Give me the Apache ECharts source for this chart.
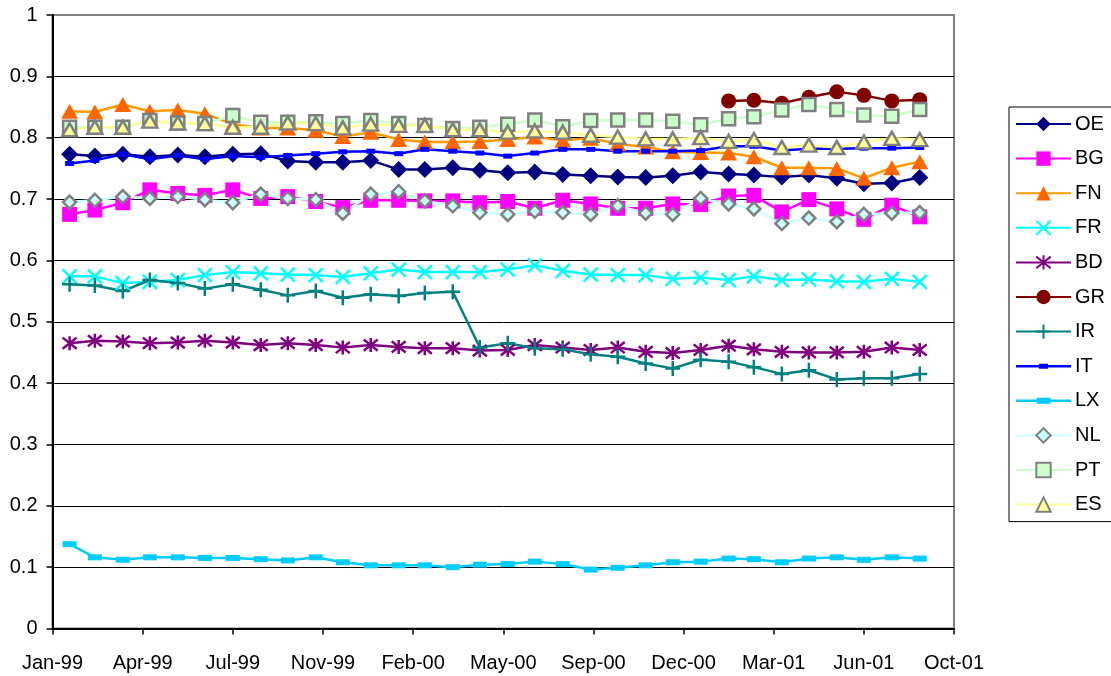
<!DOCTYPE html>
<html>
<head>
<meta charset="utf-8">
<script src="https://cdn.jsdelivr.net/npm/echarts@6/dist/echarts.min.js"></script>
<style>
  html, body { margin: 0; padding: 0; background: #fff; }
  #chart { width: 1111px; height: 676px; }
</style>
</head>
<body>
<div id="chart"></div>
<script>
// month-end observation dates
const months = [
  '1999-01-31', '1999-02-28', '1999-03-31', '1999-04-30', '1999-05-31', '1999-06-30',
  '1999-07-31', '1999-08-31', '1999-09-30', '1999-10-31', '1999-11-30', '1999-12-31',
  '2000-01-31', '2000-02-29', '2000-03-31', '2000-04-30', '2000-05-31', '2000-06-30',
  '2000-07-31', '2000-08-31', '2000-09-30', '2000-10-31', '2000-11-30', '2000-12-31',
  '2001-01-31', '2001-02-28', '2001-03-31', '2001-04-30', '2001-05-31', '2001-06-30',
  '2001-07-31', '2001-08-31'
];

const OE = [0.773, 0.770, 0.773, 0.769, 0.772, 0.769, 0.773, 0.774, 0.762, 0.760, 0.760, 0.763,
  0.748, 0.748, 0.751, 0.747, 0.743, 0.744, 0.740, 0.738, 0.736, 0.735, 0.738, 0.744,
  0.741, 0.739, 0.736, 0.739, 0.734, 0.725, 0.726, 0.735];
const BG = [0.675, 0.682, 0.694, 0.715, 0.709, 0.706, 0.715, 0.701, 0.704, 0.696, 0.686, 0.698,
  0.698, 0.697, 0.697, 0.694, 0.696, 0.685, 0.698, 0.692, 0.685, 0.685, 0.692, 0.691,
  0.705, 0.706, 0.679, 0.699, 0.684, 0.667, 0.690, 0.671];
const FN = [0.843, 0.842, 0.854, 0.843, 0.845, 0.839, 0.822, 0.816, 0.816, 0.812, 0.802, 0.809,
  0.797, 0.793, 0.793, 0.794, 0.797, 0.801, 0.796, 0.799, 0.790, 0.785, 0.777, 0.776,
  0.775, 0.769, 0.751, 0.751, 0.750, 0.734, 0.751, 0.761];
const FR = [0.574, 0.574, 0.563, 0.565, 0.568, 0.576, 0.581, 0.579, 0.577, 0.576, 0.573, 0.579,
  0.585, 0.581, 0.581, 0.581, 0.585, 0.592, 0.583, 0.577, 0.576, 0.576, 0.570, 0.572,
  0.568, 0.574, 0.568, 0.569, 0.566, 0.565, 0.570, 0.565];
const BD = [0.465, 0.469, 0.468, 0.465, 0.466, 0.469, 0.466, 0.462, 0.465, 0.462, 0.458, 0.462,
  0.459, 0.457, 0.457, 0.453, 0.454, 0.462, 0.458, 0.454, 0.458, 0.451, 0.449, 0.454,
  0.461, 0.455, 0.451, 0.450, 0.450, 0.451, 0.458, 0.454];
// GR only reported from Jan-01
const GR = [null, null, null, null, null, null, null, null, null, null, null, null,
  null, null, null, null, null, null, null, null, null, null, null, null,
  0.860, 0.861, 0.856, 0.866, 0.875, 0.869, 0.860, 0.862];
const IR = [0.561, 0.559, 0.550, 0.568, 0.563, 0.554, 0.561, 0.552, 0.543, 0.550, 0.539, 0.545,
  0.542, 0.547, 0.549, 0.458, 0.465, 0.457, 0.455, 0.447, 0.443, 0.432, 0.424, 0.438,
  0.435, 0.426, 0.415, 0.421, 0.406, 0.408, 0.408, 0.415];
const IT = [0.758, 0.763, 0.773, 0.765, 0.771, 0.765, 0.770, 0.768, 0.771, 0.774, 0.777, 0.778,
  0.774, 0.781, 0.778, 0.775, 0.770, 0.775, 0.781, 0.781, 0.778, 0.778, 0.778, 0.779,
  0.786, 0.786, 0.779, 0.782, 0.782, 0.783, 0.783, 0.784];
const LX = [0.1375, 0.116, 0.112, 0.116, 0.116, 0.115, 0.115, 0.113, 0.111, 0.116, 0.108, 0.103,
  0.103, 0.103, 0.100, 0.104, 0.105, 0.109, 0.105, 0.096, 0.099, 0.103, 0.108, 0.109,
  0.114, 0.113, 0.108, 0.114, 0.116, 0.112, 0.116, 0.114];
const NL = [0.695, 0.698, 0.704, 0.701, 0.704, 0.699, 0.694, 0.708, 0.701, 0.699, 0.677, 0.708,
  0.712, 0.697, 0.689, 0.678, 0.675, 0.680, 0.678, 0.675, 0.689, 0.677, 0.675, 0.701,
  0.692, 0.684, 0.660, 0.669, 0.663, 0.675, 0.677, 0.678];
const PT = [0.817, 0.817, 0.817, 0.828, 0.824, 0.823, 0.836, 0.825, 0.825, 0.826, 0.823, 0.828,
  0.823, 0.820, 0.815, 0.817, 0.822, 0.829, 0.818, 0.828, 0.829, 0.829, 0.827, 0.821,
  0.831, 0.834, 0.845, 0.854, 0.846, 0.837, 0.835, 0.846];
const ES = [0.813, 0.817, 0.817, 0.827, 0.824, 0.823, 0.817, 0.817, 0.824, 0.823, 0.816, 0.822,
  0.820, 0.820, 0.813, 0.813, 0.809, 0.811, 0.809, 0.804, 0.801, 0.798, 0.798, 0.800,
  0.794, 0.797, 0.784, 0.788, 0.784, 0.793, 0.799, 0.797];

const yTicks = [0, 0.1, 0.2, 0.3, 0.4, 0.5, 0.6, 0.7, 0.8, 0.9, 1];

// Excel-style date axis: starts 12 Jan 1999, major unit 100 days
const DAY = 86400000;
const axisStart = Date.UTC(1999, 0, 12);
const monNames = ['Jan', 'Feb', 'Mar', 'Apr', 'May', 'Jun', 'Jul', 'Aug', 'Sep', 'Oct', 'Nov', 'Dec'];

function toDays(s) {
  return (Date.parse(s + 'T00:00:00Z') - axisStart) / DAY;
}
function dayLabel(v) {
  const d = new Date(axisStart + v * DAY);
  return monNames[d.getUTCMonth()] + '-' + String(d.getUTCFullYear()).slice(2);
}
function pairs(vals) {
  return months.map((m, i) => [toDays(m), vals[i]]);
}

const XMARK = 'path://M0,0L10,10M10,0L0,10';
const STAR = 'path://M5,0L5,10M1,1L9,9M9,1L1,9';
const PLUS = 'path://M5,0L5,10M0,5L10,5';
// legend icons for the dash markers: line through a small bar
const IT_ICON = 'path://M0,7.75h55v2.5H0z M23,6.5h9v5h-9z';
const LX_ICON = 'path://M0,7.75h55v2.5H0z M20.5,6h14v6h-14z';

function mk(name, vals, line, fill, symbol, size, border, stroked) {
  return {
    name: name,
    type: 'line',
    data: pairs(vals),
    symbol: symbol,
    symbolSize: size,
    showAllSymbol: true,
    connectNulls: false,
    animation: false,
    lineStyle: { color: line, width: 2.5 },
    itemStyle: stroked
      ? { color: fill, borderColor: fill, borderWidth: 2.5 }
      : { color: fill, borderColor: border || fill, borderWidth: border ? 2.5 : 0 },
    emphasis: { disabled: true }
  };
}

const series = [
  mk('OE', OE, '#000080', '#000080', 'diamond', 17),
  mk('BG', BG, '#FF00FF', '#FF00FF', 'rect', 15),
  mk('FN', FN, '#FF9900', '#FF6600', 'triangle', [17, 15]),
  mk('FR', FR, '#00FFFF', '#00FFFF', XMARK, 14, null, true),
  mk('BD', BD, '#800080', '#800080', STAR, 14, null, true),
  mk('GR', GR, '#800000', '#800000', 'circle', 15),
  mk('IR', IR, '#008080', '#008080', PLUS, 15, null, true),
  mk('IT', IT, '#0000FF', '#0000FF', 'rect', [9, 5]),
  mk('LX', LX, '#00CCFF', '#00CCFF', 'rect', [14, 6]),
  mk('NL', NL, '#CCFFFF', '#CCFFFF', 'diamond', 13, '#808080'),
  mk('PT', PT, '#CCFFCC', '#CCFFCC', 'rect', 13, '#808080'),
  mk('ES', ES, '#FFFF99', '#FFFF99', 'triangle', [15, 13], '#808080')
];

const legendData = series.map(s => {
  if (s.name === 'IT') return { name: 'IT', icon: IT_ICON };
  if (s.name === 'LX') return { name: 'LX', icon: LX_ICON };
  return { name: s.name };
});

const FONT = 20;

const chart = echarts.init(document.getElementById('chart'), null, { renderer: 'canvas' });
chart.setOption({
  backgroundColor: '#fff',
  animation: false,
  textStyle: { fontFamily: '"Liberation Sans", Arial, sans-serif' },
  grid: {
    left: 52.5, right: 157, top: 15, bottom: 47.5,
    show: true, borderColor: '#808080', borderWidth: 2, backgroundColor: 'transparent'
  },
  legend: {
    orient: 'vertical',
    left: 1009, top: 107,
    padding: [7, 12, 7, 6],
    itemWidth: 55, itemHeight: 18, itemGap: 14.6,
    borderColor: '#000', borderWidth: 1,
    textStyle: { fontSize: FONT, color: '#000', lineHeight: 20, padding: [0, 0, 0, -1] },
    data: legendData
  },
  xAxis: {
    type: 'value',
    min: 0, max: 1000, interval: 100,
    axisLine: { show: true, lineStyle: { color: '#000', width: 2 } },
    axisTick: { show: true, inside: false, length: 6, lineStyle: { color: '#000', width: 1.5 } },
    splitLine: { show: false },
    axisLabel: {
      formatter: dayLabel, fontSize: FONT, color: '#000', margin: 25,
      showMinLabel: true, showMaxLabel: true
    }
  },
  yAxis: {
    type: 'value',
    min: yTicks[0], max: yTicks[yTicks.length - 1], interval: 0.1,
    axisLine: { show: true, lineStyle: { color: '#000', width: 2 } },
    axisTick: { show: true, length: 6, lineStyle: { color: '#000', width: 1.5 } },
    splitLine: { show: true, showMaxLine: false, lineStyle: { color: '#000', width: 1 } },
    axisLabel: {
      fontSize: FONT, color: '#000', margin: 15,
      formatter: v => String(+v.toFixed(1))
    }
  },
  series: series
});
</script>
</body>
</html>
